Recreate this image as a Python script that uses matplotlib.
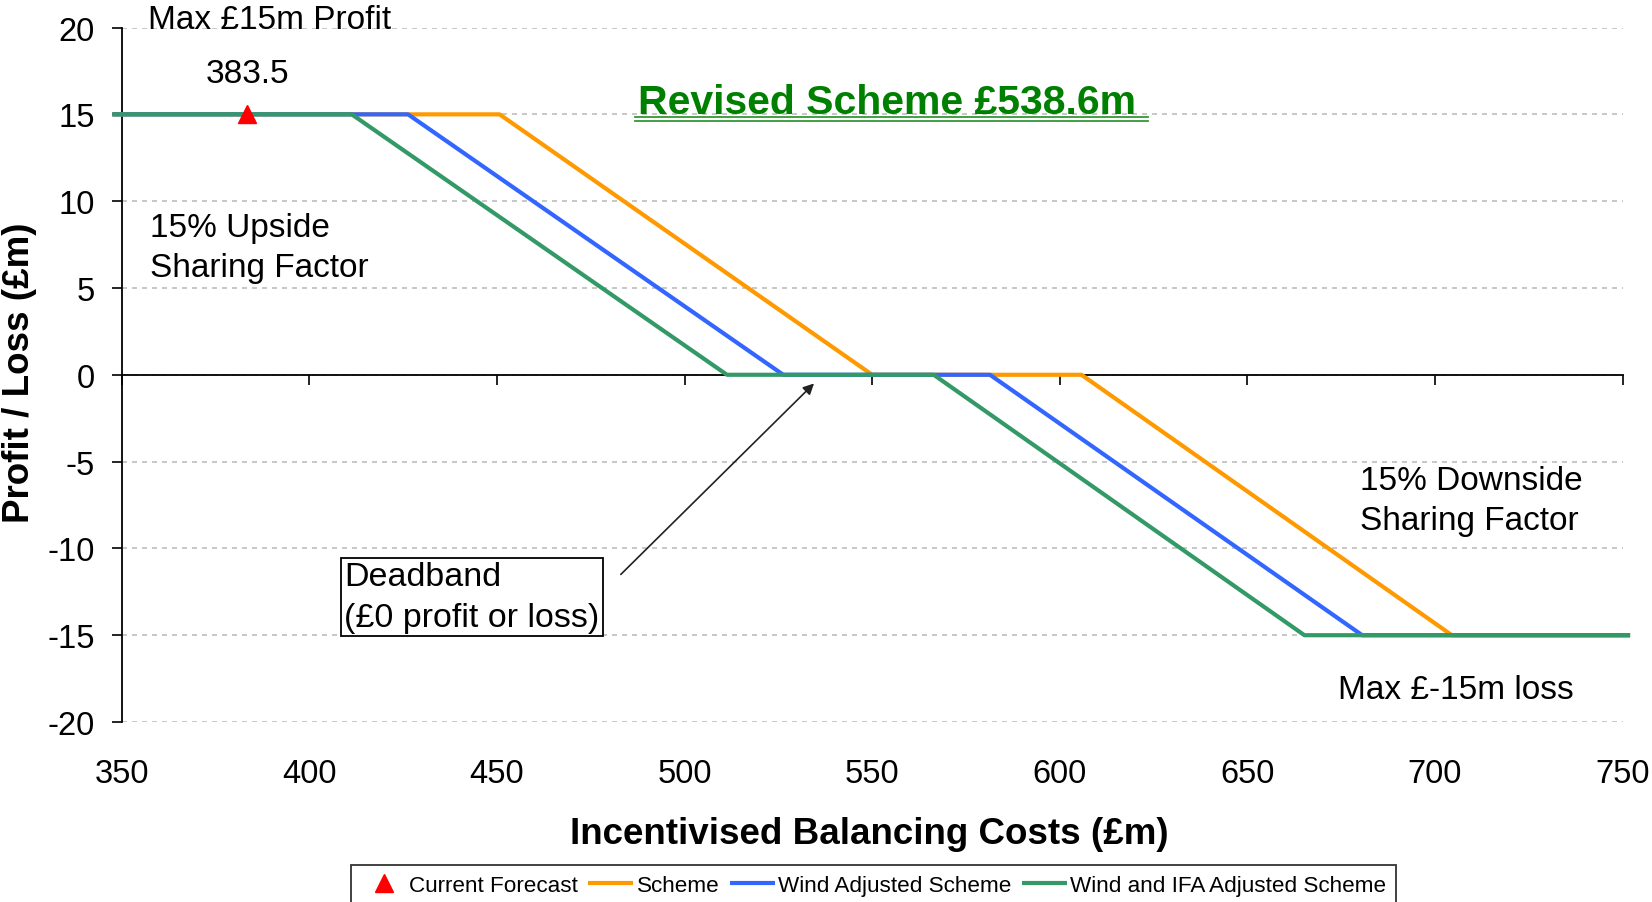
import matplotlib
matplotlib.use('Agg')
import matplotlib.pyplot as plt
from matplotlib.lines import Line2D

plt.rcParams['font.family'] = ['Liberation Sans', 'DejaVu Sans']

# ---------------- data ----------------
x_ticks = [350, 400, 450, 500, 550, 600, 650, 700, 750]
y_ticks = [-20, -15, -10, -5, 0, 5, 10, 15, 20]

scheme_x = [347.5, 450.7, 550.0, 605.8, 704.5, 752.0]
scheme_y = [15, 15, 0, 0, -15, -15]
wind_x = [347.5, 426.3, 526.3, 581.4, 680.6, 752.0]
wind_y = [15, 15, 0, 0, -15, -15]
ifa_x = [347.5, 411.3, 511.3, 566.4, 665.2, 752.0]
ifa_y = [15, 15, 0, 0, -15, -15]
forecast_x = [383.5]
forecast_y = [15]

series_labels = ['Current Forecast', 'Scheme', 'Wind Adjusted Scheme',
                 'Wind and IFA Adjusted Scheme']
colors = ['#FF0000', '#FF9900', '#3366FF', '#339966']

# ---------------- figure ----------------
fig = plt.figure(figsize=(16.52, 9.03), dpi=100)
ax = fig.add_axes([0.0737, 0.1993, 0.9085, 0.7691])

ax.set_xlim(350, 750)
ax.set_ylim(-20, 20)
ax.set_xticks(x_ticks)
ax.set_yticks(y_ticks)
ax.set_yticklabels([str(v) for v in y_ticks])

# grid
ax.set_axisbelow(True)
ax.yaxis.grid(True, color='#BDBDBD', linestyle=(0, (3, 3)), linewidth=1.2)
ax.xaxis.grid(False)

# spines
ax.spines['right'].set_visible(False)
ax.spines['bottom'].set_visible(False)
ax.spines['top'].set_position(('data', 0))
ax.spines['top'].set_linewidth(1.3)
ax.spines['left'].set_linewidth(1.3)

ax.tick_params(axis='x', which='both', top=True, bottom=False,
               labeltop=False, labelbottom=True, direction='in',
               length=7, width=1.2, pad=26, labelsize=23.5)
ax.tick_params(axis='y', direction='out', length=7.5, width=1.2,
               pad=12, labelsize=23.5)

# lines
l1, = ax.plot(scheme_x, scheme_y, color=colors[1], lw=3, clip_on=False,
              solid_capstyle='butt', zorder=3)
l2, = ax.plot(wind_x, wind_y, color=colors[2], lw=3, clip_on=False,
              solid_capstyle='butt', zorder=4)
l3, = ax.plot(ifa_x, ifa_y, color=colors[3], lw=3, clip_on=False,
              solid_capstyle='butt', zorder=5)
m, = ax.plot(forecast_x, forecast_y, linestyle='none', marker='^',
             color=colors[0], markersize=13, zorder=6)

# labels
ax.set_xlabel('Incentivised Balancing Costs (£m)', fontsize=26.5,
              fontweight='bold', va='center')
ax.xaxis.set_label_coords(0.498, -0.16)
ax.set_ylabel('Profit / Loss (£m)', fontsize=26.5, fontweight='bold',
              va='center')
ax.yaxis.set_label_coords(-0.0684, 0.505)

# annotations
ax.text(357.0, 20.45, 'Max £15m Profit', fontsize=24, ha='left', va='center')
ax.text(forecast_x[0], 17.35, f'{forecast_x[0]}', fontsize=24,
        ha='center', va='center')
ax.text(357.6, 7.32, '15% Upside\nSharing Factor', fontsize=24,
        ha='left', va='center', linespacing=1.4)
ax.text(680.1, -7.25, '15% Downside\nSharing Factor', fontsize=24,
        ha='left', va='center', linespacing=1.4)
ax.text(674.2, -18.1, 'Max £-15m loss', fontsize=24, ha='left', va='center')

ax.text(409.3, -12.8, 'Deadband\n(£0 profit or loss)', fontsize=24.5,
        ha='left', va='center', linespacing=1.4, zorder=7,
        bbox=dict(boxstyle='square,pad=0.1', fc='white', ec='black', lw=1.3))
ax.annotate('', xy=(534.5, -0.5), xytext=(483.0, -11.5),
            arrowprops=dict(arrowstyle='-|>', color='#222222', lw=1.2,
                            mutation_scale=16, shrinkA=0, shrinkB=0))

title = ax.text(487.6, 15.08, 'Revised Scheme £538.6m', fontsize=29.5,
                fontweight='bold', color='#008000', ha='left', va='baseline')

# legend
handles = [m, l1, l2, l3]
leg = fig.legend(handles, series_labels, loc='upper center',
                 bbox_to_anchor=(0.5288, 0.041), ncol=4, fontsize=16.2,
                 frameon=True, fancybox=False, handlelength=2.0,
                 handletextpad=0.15, columnspacing=0.45, borderpad=0.45,
                 borderaxespad=0)
leg.get_frame().set_edgecolor('black')
leg.get_frame().set_linewidth(1.3)

# double underline for title, computed from its rendered extent
fig.canvas.draw()
renderer = fig.canvas.get_renderer()
bb = title.get_window_extent(renderer)
base_disp = ax.transData.transform((487.6, 15.08))[1]
inv = fig.transFigure.inverted()
for off in (4, 8):
    (x0, y0) = inv.transform((bb.x0 - 3, base_disp - off))
    (x1, _) = inv.transform((bb.x1 + 12, base_disp - off))
    fig.add_artist(Line2D([x0, x1], [y0, y0], color='#339933', lw=1.3,
                          transform=fig.transFigure))

fig.savefig('out.png', dpi=100)
